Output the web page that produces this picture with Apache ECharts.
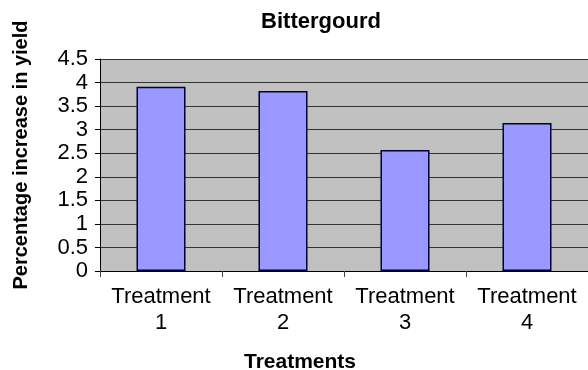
<!DOCTYPE html>
<html><head><meta charset="utf-8">
<script src="https://cdn.jsdelivr.net/npm/echarts@6/dist/echarts.min.js"></script>
<style>html,body{margin:0;padding:0;background:#fff}#c{width:588px;height:370px}</style>
</head><body><div id="c"></div>
<script>
const categories = ['Treatment\n1', 'Treatment\n2', 'Treatment\n3', 'Treatment\n4'];
const values = [3.91, 3.82, 2.57, 3.14];
const chartTitle = 'Bittergourd';
const xName = 'Treatments';
const yName = 'Percentage increase in yield';

const chart = echarts.init(document.getElementById('c'), null, {renderer: 'canvas'});
const font = 'Liberation Sans, Arial, sans-serif';
chart.setOption({
  animation: false,
  graphic: [
    {type: 'text', x: 321, y: 22, style: {text: chartTitle, font: 'bold 22px ' + font, fill: '#000', align: 'center', verticalAlign: 'middle'}},
    {type: 'text', x: 300, y: 362, style: {text: xName, font: 'bold 21px ' + font, fill: '#000', align: 'center', verticalAlign: 'middle'}},
    {type: 'text', x: 21, y: 155, rotation: Math.PI / 2, style: {text: yName, font: 'bold 20px ' + font, fill: '#000', align: 'center', verticalAlign: 'middle'}}
  ],
  grid: {left: 100, right: -4, top: 59, bottom: 99, show: true, backgroundColor: '#c0c0c0', borderWidth: 0},
  xAxis: {
    type: 'category', data: categories,
    axisLine: {lineStyle: {color: '#000', width: 1}},
    axisTick: {show: true, length: 6, lineStyle: {color: '#444'}},
    axisLabel: {interval: 0, hideOverlap: false, fontFamily: font, fontSize: 22, color: '#000', lineHeight: 26, margin: 13}
  },
  yAxis: {
    type: 'value', min: 0, max: 4.5, interval: 0.5,
    axisLine: {show: true, lineStyle: {color: '#000', width: 1}},
    axisTick: {show: true, length: 5, lineStyle: {color: '#000'}},
    axisLabel: {fontFamily: font, fontSize: 22, color: '#000', margin: 12},
    splitLine: {show: true, lineStyle: {color: '#333', width: 1}}
  },
  series: [{
    type: 'bar', data: values, barWidth: 49,
    itemStyle: {color: '#9999ff', borderColor: '#000033', borderWidth: 1.5}
  }]
});
</script></body></html>
